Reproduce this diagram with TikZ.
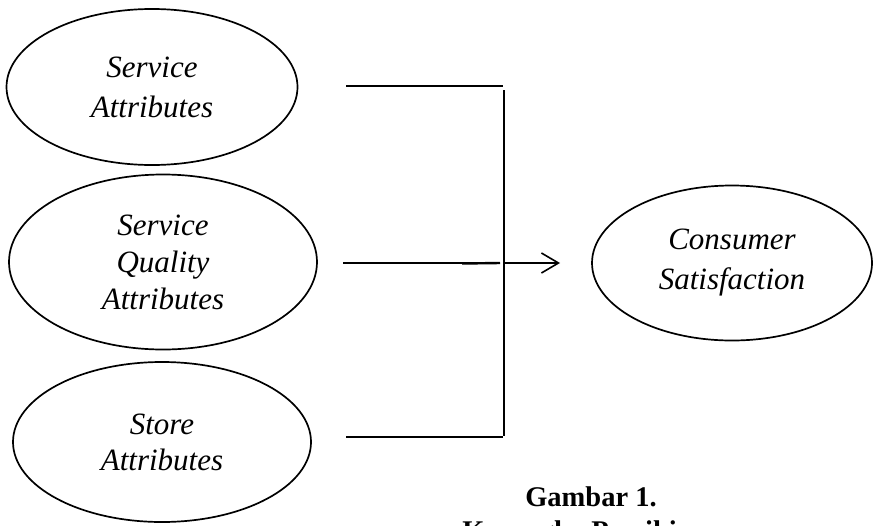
\documentclass[tikz,border=0pt]{standalone}
\usepackage{fontspec}
\setmainfont{Liberation Serif}
\usetikzlibrary{shapes.geometric,arrows.meta}
\begin{document}
\begin{tikzpicture}[x=1pt,y=-1pt,
  oval/.style={draw,line width=1.7pt,ellipse,inner sep=0pt,align=center},
  conn/.style={line width=1.6pt},
  arr/.style={line width=1.6pt,-{Straight Barb[length=17pt,width=20pt,line width=1.6pt]}},
  caption/.style={font=\fontsize{28.5}{33}\selectfont\bfseries,anchor=base,inner sep=0pt}]
\fill[white] (0,0) rectangle (874,525);
\clip (0,0) rectangle (874,525);
\node[oval,minimum width=291pt,minimum height=156pt,font=\fontsize{31}{40}\selectfont\itshape] (sa) at (152,87) {Service\\Attributes};
\node[oval,minimum width=308pt,minimum height=175pt,font=\fontsize{31}{37}\selectfont\itshape] (sq) at (163,262) {Service\\Quality\\Attributes};
\node[oval,minimum width=298pt,minimum height=160pt,font=\fontsize{31}{36}\selectfont\itshape] (st) at (162,442) {Store\\Attributes};
\node[oval,minimum width=280pt,minimum height=155pt,font=\fontsize{31}{40}\selectfont\itshape] (cs) at (732,263) {Consumer\\Satisfaction};
\coordinate (t1) at (346,86);
\coordinate (t2) at (503,86);
\coordinate (v1) at (504,90);
\coordinate (v2) at (504,436);
\coordinate (m1) at (343,263);
\coordinate (m2) at (500,263);
\coordinate (k1) at (462,263.5);
\coordinate (a1) at (504,263);
\coordinate (a2) at (560,263);
\coordinate (b1) at (346,437);
\coordinate (b2) at (503,437);
\draw[conn] (t1) -- (t2);
\draw[conn] (v1) -- (v2);
\draw[conn] (m1) -- (m2);
\draw[line width=2.4pt] (k1) -- (m2);
\draw[arr] (a1) -- (a2);
\draw[conn] (b1) -- (b2);
\node[caption] (g1) at (591,506) {Gambar 1.};
\node[caption] (g2) at (591,540) {Kerangka Pemikiran};
\end{tikzpicture}
\end{document}
